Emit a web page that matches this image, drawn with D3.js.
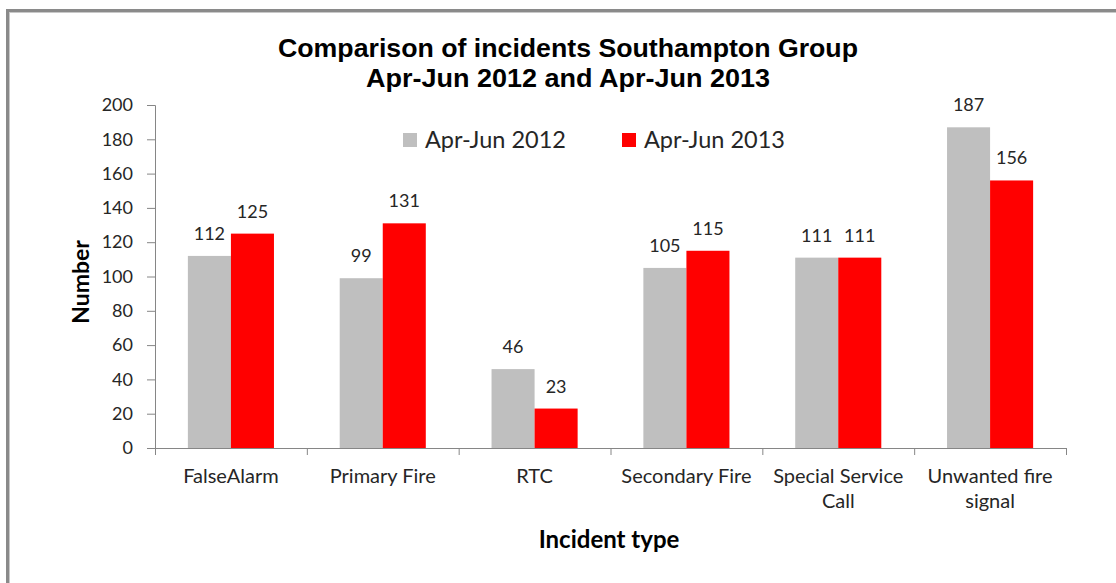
<!DOCTYPE html>
<html><head><meta charset="utf-8">
<script src="https://cdn.jsdelivr.net/npm/d3@7"></script>
<style>body{margin:0;background:#fff}svg{display:block}</style>
</head><body>
<script>
const categories = [["FalseAlarm"],["Primary Fire"],["RTC"],["Secondary Fire"],["Special Service","Call"],["Unwanted fire","signal"]];
const seriesNames = ["Apr-Jun 2012","Apr-Jun 2013"];
const values2012 = [112, 99, 46, 105, 111, 187];
const values2013 = [125, 131, 23, 115, 111, 156];
const yTicks = [0,20,40,60,80,100,120,140,160,180,200];
const colors = ["#BFBFBF","#FF0000"];
const titleLines = ["Comparison of incidents Southampton Group","Apr-Jun 2012 and Apr-Jun 2013"];

const W=1116,H=583;
const svg=d3.select("body").append("svg").attr("width",W).attr("height",H);
const font="Lato, 'Open Sans', sans-serif";

// frame
svg.append("rect").attr("x",6).attr("y",9).attr("width",W).attr("height",3).attr("fill","#8a8a8a");
svg.append("rect").attr("x",6).attr("y",9).attr("width",3).attr("height",H).attr("fill","#8a8a8a");
svg.append("rect").attr("x",9).attr("y",12).attr("width",W).attr("height",1).attr("fill","#c8c8c8");
svg.append("rect").attr("x",9).attr("y",12).attr("width",1).attr("height",H).attr("fill","#c8c8c8");

const catIdx=categories.map((c,i)=>i);
const x0=d3.scaleBand().domain(catIdx).range([155,1066]).paddingInner(0.433).paddingOuter(0.2165);
const x1=d3.scaleBand().domain([0,1]).range([0,x0.bandwidth()]);
const y=d3.scaleLinear().domain([0,200]).range([448,105]);

// title
const titleW=[580,404];
svg.append("g").selectAll("text").data(titleLines).join("text")
  .attr("x",568).attr("y",(d,i)=>57+i*30).attr("text-anchor","middle")
  .attr("font-family","'Liberation Sans', Arial, sans-serif").attr("font-weight","bold")
  .attr("font-size",25).attr("fill","#000")
  .attr("textLength",(d,i)=>titleW[i]).attr("lengthAdjust","spacingAndGlyphs").text(d=>d);

// y axis
const yAxis=svg.append("g").attr("transform","translate(155,0)")
  .call(d3.axisLeft(y).tickValues(yTicks).tickSize(8).tickPadding(14));
yAxis.selectAll("path,line").attr("stroke","#868686");
yAxis.select("path").attr("d","M-8,105.5H0.5V448.5H-8");
yAxis.selectAll("text").attr("font-family",font).attr("font-size",18).attr("fill","#262626");

// x axis
const xg=svg.append("g");
xg.append("line").attr("x1",155).attr("x2",1066).attr("y1",448.5).attr("y2",448.5).attr("stroke","#868686");
const bounds=catIdx.map(i=>x0(i)-x0.step()*0.2165).concat([1066]);
xg.selectAll("line.tk").data(bounds).join("line").attr("class","tk")
  .attr("x1",d=>d+0.5).attr("x2",d=>d+0.5).attr("y1",448).attr("y2",455).attr("stroke","#868686");
const xl=svg.append("g").selectAll("text").data(categories).join("text")
  .attr("font-family",font).attr("font-size",20).attr("fill","#262626").attr("text-anchor","middle");
xl.each(function(lines,i){
  const t=d3.select(this);
  lines.forEach((l,j)=>t.append("tspan").attr("x",x0(i)+x0.bandwidth()/2).attr("y",483+j*25).text(l));
});

// bars
const all=[values2012,values2013];
all.forEach((vals,s)=>{
  svg.append("g").selectAll("rect").data(vals).join("rect")
    .attr("x",(d,i)=>x0(i)+x1(s)).attr("width",x1.bandwidth())
    .attr("y",d=>y(d)).attr("height",d=>y(0)-y(d)).attr("fill",colors[s]);
  svg.append("g").selectAll("text").data(vals).join("text")
    .attr("x",(d,i)=>x0(i)+x1(s)+x1.bandwidth()/2).attr("y",d=>y(d)-16)
    .attr("text-anchor","middle").attr("font-family",font).attr("font-size",18).attr("fill","#262626")
    .text(d=>d);
});

// legend
const legX=[403,622];
seriesNames.forEach((n,s)=>{
  svg.append("rect").attr("x",legX[s]).attr("y",133).attr("width",14).attr("height",14).attr("fill",colors[s]);
  svg.append("text").attr("x",legX[s]+22).attr("y",148).attr("font-family",font).attr("font-size",23.5)
    .attr("fill","#262626").text(n);
});

// axis titles
svg.append("text").attr("transform","translate(89,282) rotate(-90)").attr("text-anchor","middle")
  .attr("font-family",font).attr("font-weight","bold").attr("font-size",23).attr("fill","#000").text("Number");
svg.append("text").attr("x",609).attr("y",548).attr("text-anchor","middle")
  .attr("font-family",font).attr("font-weight","bold").attr("font-size",24).attr("fill","#000").text("Incident type");
</script>
</body></html>
